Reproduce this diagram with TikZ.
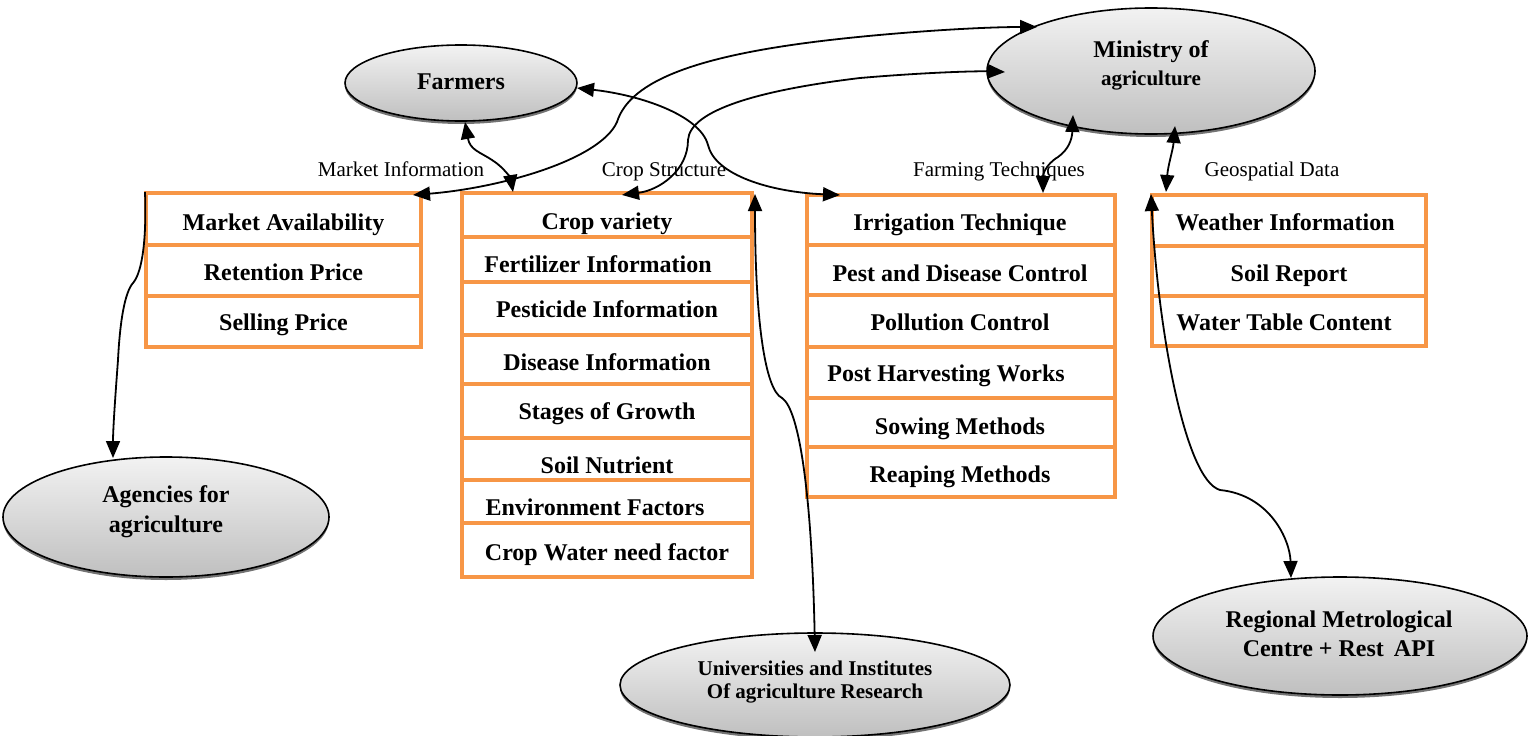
\documentclass[tikz,border=0pt]{standalone}
\usepackage{fontspec}
\setmainfont{Liberation Serif}
\usetikzlibrary{arrows.meta,shapes.geometric,shadows,calc}
\definecolor{boxor}{HTML}{F79646}
\begin{document}
\begin{tikzpicture}[x=1pt,y=-1pt,
 ell/.style={ellipse, draw=black, line width=1.6pt, top color=black!5, bottom color=black!25, inner sep=0pt,
   drop shadow={shadow xshift=0pt,shadow yshift=-3pt,fill=black!55,opacity=1}},
 etext/.style={align=center, inner sep=0pt, font=\fontsize{24}{30}\selectfont\bfseries},
 rowbox/.style={draw=boxor, line width=4pt, fill=white, inner sep=0pt},
 itm/.style={font=\fontsize{24}{28}\selectfont\bfseries, inner sep=0pt, text height=17pt, text depth=5pt},
 lbl/.style={font=\fontsize{21}{24}\selectfont, inner sep=0pt, text height=15pt, text depth=4pt},
 tipa/.tip={Triangle[length=17pt,width=14pt]},
 conn/.style={line width=1.8pt, tipa-tipa},
 conn1/.style={line width=1.8pt, -tipa},
]
\useasboundingbox (0,0) rectangle (1529,736);

% ellipses
\node[ell, minimum width=232pt, minimum height=76pt] (farmers) at (461,83) {};
\node[ell, minimum width=328pt, minimum height=126pt] (ministry) at (1151,71) {};
\node[ell, minimum width=326pt, minimum height=120pt] (agencies) at (166,517) {};
\node[ell, minimum width=390pt, minimum height=104pt] (univ) at (815,685) {};
\node[ell, minimum width=374pt, minimum height=118pt] (regional) at (1340,636) {};
\node[etext] (tfarmers) at (461,82) {Farmers};
\node[etext, font=\fontsize{24}{28}\selectfont\bfseries] (tministry) at (1151,65) {Ministry of\\{\fontsize{21}{25}\selectfont agriculture}};
\node[etext] (tagencies) at (166,512) {Agencies for\\agriculture};
\node[etext, font=\fontsize{21}{23}\selectfont\bfseries] (tuniv) at (815,682) {Universities and Institutes\\Of agriculture Research};
\node[etext, font=\fontsize{24}{29}\selectfont\bfseries] (tregional) at (1339,634) {Regional Metrological\\Centre + Rest\, API};

% market box
\node[rowbox, minimum width=275pt, minimum height=52pt] (m1) at (283.5,219) {};
\node[rowbox, minimum width=275pt, minimum height=51pt] (m2) at (283.5,270.5) {};
\node[rowbox, minimum width=275pt, minimum height=51pt] (m3) at (283.5,321.5) {};
\node[itm] (tm1) at (283.5,224) {Market Availability};
\node[itm] (tm2) at (283.5,274) {Retention Price};
\node[itm] (tm3) at (283.5,324) {Selling Price};

% crop box
\node[rowbox, minimum width=290pt, minimum height=44pt] (c1) at (607,215) {};
\node[rowbox, minimum width=290pt, minimum height=45pt] (c2) at (607,259.5) {};
\node[rowbox, minimum width=290pt, minimum height=53pt] (c3) at (607,308.5) {};
\node[rowbox, minimum width=290pt, minimum height=49pt] (c4) at (607,359.5) {};
\node[rowbox, minimum width=290pt, minimum height=54pt] (c5) at (607,411) {};
\node[rowbox, minimum width=290pt, minimum height=42pt] (c6) at (607,459) {};
\node[rowbox, minimum width=290pt, minimum height=43pt] (c7) at (607,501.5) {};
\node[rowbox, minimum width=290pt, minimum height=54pt] (c8) at (607,550) {};
\node[itm] (tc1) at (607,223) {Crop variety};
\node[itm] (tc2) at (598,266) {Fertilizer Information};
\node[itm] (tc3) at (607,311) {Pesticide Information};
\node[itm] (tc4) at (607,364) {Disease Information};
\node[itm] (tc5) at (607,413) {Stages of Growth};
\node[itm] (tc6) at (607,467) {Soil Nutrient};
\node[itm] (tc7) at (595,509) {Environment Factors};
\node[itm] (tc8) at (607,554) {Crop Water need factor};

% farming box
\node[rowbox, minimum width=308pt, minimum height=50pt] (f1) at (961,220) {};
\node[rowbox, minimum width=308pt, minimum height=50pt] (f2) at (961,270) {};
\node[rowbox, minimum width=308pt, minimum height=52pt] (f3) at (961,321) {};
\node[rowbox, minimum width=308pt, minimum height=51pt] (f4) at (961,372.5) {};
\node[rowbox, minimum width=308pt, minimum height=49pt] (f5) at (961,422.5) {};
\node[rowbox, minimum width=308pt, minimum height=50pt] (f6) at (961,472) {};
\node[itm] (tf1) at (960,224) {Irrigation Technique};
\node[itm] (tf2) at (960,275) {Pest and Disease Control};
\node[itm] (tf3) at (960,324) {Pollution Control};
\node[itm] (tf4) at (946,375) {Post Harvesting Works};
\node[itm] (tf5) at (960,428) {Sowing Methods};
\node[itm] (tf6) at (960,476) {Reaping Methods};

% geospatial box
\node[rowbox, minimum width=274pt, minimum height=51pt] (g1) at (1289,220.5) {};
\node[rowbox, minimum width=274pt, minimum height=50pt] (g2) at (1289,271) {};
\node[rowbox, minimum width=274pt, minimum height=50pt] (g3) at (1289,321) {};
\node[itm] (tg1) at (1285,224) {Weather Information};
\node[itm] (tg2) at (1289,275) {Soil Report};
\node[itm] (tg3) at (1284,324) {Water Table Content};

% labels
\node[lbl] (l1) at (401,171) {Market Information};
\node[lbl] (l2) at (664,171) {Crop Structure};
\node[lbl] (l3) at (999,171) {Farming Techniques};
\node[lbl] (l4) at (1272,171) {Geospatial Data};

% connectors
\draw[conn] ($(farmers.center)+(4,39)$) .. controls (470,150) and (480,152) .. (492,160)
   .. controls (505,168) and (511,180) .. ($(c1.north)+(-94,1)$);
\draw[conn] ($(m1.north east)+(-10,4)$) .. controls (500,188) and (600,160) .. (617,122)
   .. controls (630,80) and (700,55) .. (830,40) .. controls (900,32) and (980,27) .. ($(ministry.center)+(-114,-44)$);
\draw[conn] ($(c1.north)+(15,4)$) .. controls (660,190) and (688,170) .. (688,140)
   .. controls (690,110) and (760,90) .. (860,78) .. controls (930,72) and (980,71) .. ($(ministry.center)+(-146,1)$);
\draw[conn] ($(farmers.center)+(116,5)$) .. controls (640,95) and (700,115) .. (708,145)
   .. controls (715,175) and (770,192) .. ($(f1.north west)+(35,2)$);
\draw[conn] ($(ministry.center)+(-78,44)$) .. controls (1072,140) and (1068,150) .. (1058,157)
   .. controls (1045,165) and (1043,175) .. ($(f1.north)+(82,0)$);
\draw[conn] ($(ministry.center)+(24,55)$) .. controls (1173,150) and (1168,165) .. ($(g1.north west)+(16,-1)$);
\draw[conn1] ($(m1.north west)+(1,1)$) .. controls (147,250) and (140,275) .. (133,283)
   .. controls (125,292) and (120,320) .. (118,360) .. controls (115,400) and (113,430) .. ($(agencies.center)+(-53,-59)$);
\draw[conn] ($(c1.north east)+(1,3)$) .. controls (755,320) and (765,390) .. (782,398)
   .. controls (800,410) and (812,500) .. ($(univ.center)+(0,-33)$);
\draw[conn] ($(g1.north west)+(1,1)$) .. controls (1158,330) and (1185,480) .. (1220,490)
   .. controls (1270,495) and (1290,540) .. ($(regional.center)+(-49,-58)$);
\end{tikzpicture}
\end{document}
